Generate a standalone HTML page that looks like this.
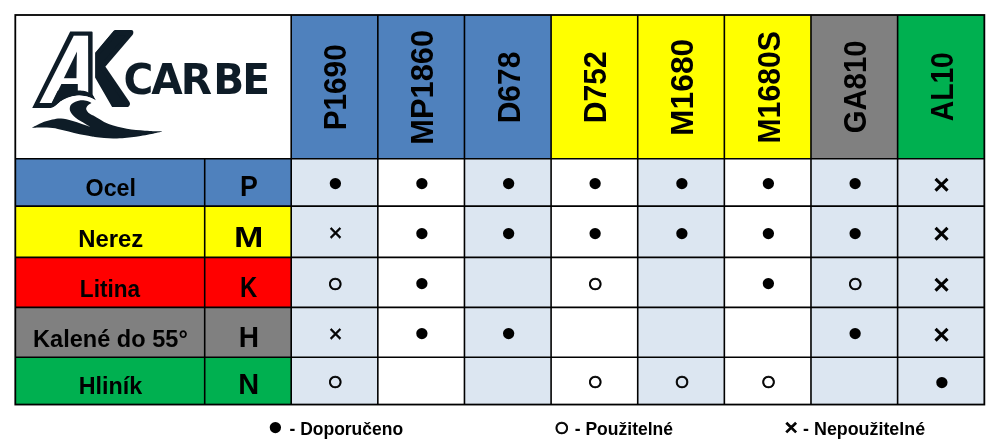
<!DOCTYPE html>
<html lang="cs"><head><meta charset="utf-8"><title>AK CARBE</title>
<style>html,body{margin:0;padding:0;background:#fff}body{width:1000px;height:439px;overflow:hidden}svg{display:block}text{font-family:"Liberation Sans",Arial,sans-serif;font-weight:bold;fill:#000}</style>
</head><body>
<svg width="1000" height="439" viewBox="0 0 1000 439">
<rect x="0" y="0" width="1000" height="439" fill="#fff"/>
<g id="cells">
<rect x="291.20" y="15.00" width="86.63" height="143.70" fill="#4F81BD"/>
<rect x="377.83" y="15.00" width="86.63" height="143.70" fill="#4F81BD"/>
<rect x="464.46" y="15.00" width="86.63" height="143.70" fill="#4F81BD"/>
<rect x="551.09" y="15.00" width="86.63" height="143.70" fill="#FFFF00"/>
<rect x="637.72" y="15.00" width="86.63" height="143.70" fill="#FFFF00"/>
<rect x="724.35" y="15.00" width="86.63" height="143.70" fill="#FFFF00"/>
<rect x="810.98" y="15.00" width="86.63" height="143.70" fill="#808080"/>
<rect x="897.61" y="15.00" width="86.64" height="143.70" fill="#00B050"/>
<rect x="15.25" y="158.70" width="275.95" height="47.40" fill="#4F81BD"/>
<rect x="15.25" y="206.10" width="275.95" height="51.30" fill="#FFFF00"/>
<rect x="15.25" y="257.40" width="275.95" height="50.00" fill="#FF0000"/>
<rect x="15.25" y="307.40" width="275.95" height="49.90" fill="#808080"/>
<rect x="15.25" y="357.30" width="275.95" height="47.20" fill="#00B050"/>
<rect x="291.20" y="158.70" width="86.63" height="245.80" fill="#DCE6F1"/>
<rect x="464.46" y="158.70" width="86.63" height="245.80" fill="#DCE6F1"/>
<rect x="637.72" y="158.70" width="86.63" height="245.80" fill="#DCE6F1"/>
<rect x="810.98" y="158.70" width="86.63" height="245.80" fill="#DCE6F1"/>
<rect x="897.61" y="158.70" width="86.64" height="245.80" fill="#DCE6F1"/>
</g>
<g id="grid" stroke="#000" stroke-width="1.6" fill="none">
<line x1="291.20" y1="15.0" x2="291.20" y2="404.5"/>
<line x1="377.83" y1="15.0" x2="377.83" y2="404.5"/>
<line x1="464.46" y1="15.0" x2="464.46" y2="404.5"/>
<line x1="551.09" y1="15.0" x2="551.09" y2="404.5"/>
<line x1="637.72" y1="15.0" x2="637.72" y2="404.5"/>
<line x1="724.35" y1="15.0" x2="724.35" y2="404.5"/>
<line x1="810.98" y1="15.0" x2="810.98" y2="404.5"/>
<line x1="897.61" y1="15.0" x2="897.61" y2="404.5"/>
<line x1="204.70" y1="158.7" x2="204.70" y2="404.5"/>
<line x1="15.25" y1="158.70" x2="984.25" y2="158.70"/>
<line x1="15.25" y1="206.10" x2="984.25" y2="206.10"/>
<line x1="15.25" y1="257.40" x2="984.25" y2="257.40"/>
<line x1="15.25" y1="307.40" x2="984.25" y2="307.40"/>
<line x1="15.25" y1="357.30" x2="984.25" y2="357.30"/>
</g>
<rect x="15.3" y="15" width="969.05" height="389.55" fill="none" stroke="#000" stroke-width="1.8"/>
<g id="heads">
<text transform="translate(346.40 130.28) rotate(-90) scale(0.9302 1)" font-size="31.97">P1690</text>
<text transform="translate(433.03 144.72) rotate(-90) scale(0.9645 1)" font-size="31.97">MP1860</text>
<text transform="translate(519.66 123.31) rotate(-90) scale(0.9382 1)" font-size="31.97">D678</text>
<text transform="translate(606.29 123.23) rotate(-90) scale(0.9400 1)" font-size="31.97">D752</text>
<text transform="translate(692.92 135.91) rotate(-90) scale(0.9939 1)" font-size="31.97">M1680</text>
<text transform="translate(779.55 143.51) rotate(-90) scale(0.9436 1)" font-size="31.97">M1680S</text>
<text transform="translate(866.18 133.32) rotate(-90) scale(0.9167 1)" font-size="31.97">GA810</text>
<text transform="translate(952.81 121.24) rotate(-90) scale(0.8840 1)" font-size="31.97">AL10</text>
</g>
<g id="labels">
<text transform="translate(85.57 195.80) scale(0.9949 1)" font-size="23.40">Ocel</text>
<text transform="translate(78.19 247.10) scale(1.0210 1)" font-size="23.40">Nerez</text>
<text transform="translate(79.87 296.60) scale(0.9662 1)" font-size="23.40">Litina</text>
<text transform="translate(33.11 346.50) scale(1.0068 1)" font-size="23.40">Kalené do 55°</text>
<text transform="translate(78.63 394.00) scale(0.9970 1)" font-size="23.40">Hliník</text>
<text transform="translate(240.10 196.00) scale(0.8969 1)" font-size="29.80">P</text>
<text transform="translate(233.92 247.00) scale(1.1837 1)" font-size="29.80">M</text>
<text transform="translate(240.09 296.60) scale(0.8013 1)" font-size="29.80">K</text>
<text transform="translate(238.70 346.80) scale(0.9426 1)" font-size="29.80">H</text>
<text transform="translate(238.25 394.00) scale(0.9711 1)" font-size="29.80">N</text>
</g>
<g id="data">
<text x="327.47" y="191.42" font-size="26.28">●</text>
<text x="414.10" y="191.42" font-size="26.28">●</text>
<text x="500.73" y="191.42" font-size="26.28">●</text>
<text x="587.36" y="191.42" font-size="26.28">●</text>
<text x="673.99" y="191.42" font-size="26.28">●</text>
<text x="760.62" y="191.42" font-size="26.28">●</text>
<text x="847.25" y="191.42" font-size="26.28">●</text>
<text x="933.25" y="194.01" font-size="28.31" font-weight="normal" style="font-weight:normal" stroke="#000" stroke-width="1.1">×</text>
<text x="328.38" y="241.34" font-size="24.04" font-weight="normal" style="font-weight:normal" stroke="#000" stroke-width="0.5">×</text>
<text x="414.10" y="240.77" font-size="26.28">●</text>
<text x="500.73" y="240.77" font-size="26.28">●</text>
<text x="587.36" y="240.77" font-size="26.28">●</text>
<text x="673.99" y="240.77" font-size="26.28">●</text>
<text x="760.62" y="240.77" font-size="26.28">●</text>
<text x="847.25" y="240.77" font-size="26.28">●</text>
<text x="933.25" y="243.36" font-size="28.31" font-weight="normal" style="font-weight:normal" stroke="#000" stroke-width="1.1">×</text>
<text x="327.37" y="291.98" font-size="26.59" stroke="#000" stroke-width="0.9">○</text>
<text x="414.10" y="291.42" font-size="26.28">●</text>
<text x="587.26" y="291.98" font-size="26.59" stroke="#000" stroke-width="0.9">○</text>
<text x="760.62" y="291.42" font-size="26.28">●</text>
<text x="847.15" y="291.98" font-size="26.59" stroke="#000" stroke-width="0.9">○</text>
<text x="933.25" y="294.01" font-size="28.31" font-weight="normal" style="font-weight:normal" stroke="#000" stroke-width="1.1">×</text>
<text x="328.38" y="341.94" font-size="24.04" font-weight="normal" style="font-weight:normal" stroke="#000" stroke-width="0.5">×</text>
<text x="414.10" y="341.37" font-size="26.28">●</text>
<text x="500.73" y="341.37" font-size="26.28">●</text>
<text x="847.25" y="341.37" font-size="26.28">●</text>
<text x="933.25" y="343.96" font-size="28.31" font-weight="normal" style="font-weight:normal" stroke="#000" stroke-width="1.1">×</text>
<text x="327.37" y="390.48" font-size="26.59" stroke="#000" stroke-width="0.9">○</text>
<text x="587.26" y="390.48" font-size="26.59" stroke="#000" stroke-width="0.9">○</text>
<text x="673.89" y="390.48" font-size="26.59" stroke="#000" stroke-width="0.9">○</text>
<text x="760.52" y="390.48" font-size="26.59" stroke="#000" stroke-width="0.9">○</text>
<text x="933.88" y="389.92" font-size="26.28">●</text>
</g>
<g id="legend">
<text x="267.55" y="434.82" font-size="26.28">●</text>
<text transform="translate(289.50 434.50) scale(0.9861 1)" font-size="17.73">- Doporučeno</text>
<text x="553.76" y="435.78" font-size="26.59" stroke="#000" stroke-width="0.9">○</text>
<text transform="translate(574.70 434.50) scale(0.9889 1)" font-size="17.73">- Použitelné</text>
<text x="784.50" y="435.02" font-size="22.92" font-weight="normal" style="font-weight:normal" stroke="#000" stroke-width="1.1">×</text>
<text transform="translate(803.09 434.50) scale(1.0077 1)" font-size="17.73">- Nepoužitelné</text>
</g>
<g id="logo" fill="#0E1C27" font-family="'DejaVu Sans', 'Liberation Sans', sans-serif" font-weight="bold">
<text transform="matrix(0.7424 0 -0.0824 0.9762 67.90 104.44)" font-size="100" style="font-family:'DejaVu Sans','Liberation Sans',sans-serif;fill:#0E1C27" stroke="#0E1C27" stroke-width="6" stroke-linejoin="round">K</text>
<polygon points="60,27 116.4,27 95.1,52.7 95.1,77.4 115.0,112 60,112" fill="#fff"/>
<path d="M70.2,31.4 L91.6,31.4 Q92.6,31.4 92.6,32.4 L92.6,94.7 L95.6,100.2 C93.5,98.8 91.5,98 89.4,97.3 C86,96.1 82.5,95.4 79.2,95.4 C76.8,95.4 74.5,95.7 72.3,96.3 C69,97.2 66,98.3 63.25,99.7 C61,100.8 59.5,102.2 57.8,103.8 C55.5,105.9 53.5,107.9 50.6,107.9 L32.2,107.9 Z"/>
<text transform="matrix(0.6365 0 -0.2335 0.9214 39.31 103.01)" font-size="100" style="font-family:'DejaVu Sans','Liberation Sans',sans-serif;fill:#fff">A</text>
<path d="M77.8,84 L77.8,90.5 C80,90.5 81.5,90.6 83,90.8 C85,91.1 86.5,91.6 88,92.2 L92.6,94.7 L95.6,100.2 C93.5,98.8 91.5,98 89.4,97.3 C86,96.1 82.5,95.4 79.2,95.4 C76.8,95.4 74.5,95.7 72.3,96.3 C69,97.2 66,98.3 63.25,99.7 C61,100.8 59.5,102.2 57.8,103.8 C55.5,105.9 53.5,107.9 50.6,107.9 L45,107.9 L52,102.9 L61.4,84 Z"/>
<path d="M95.6,100.2 C93.5,98.8 91.5,98 89.4,97.3 C86,96.1 82.5,95.4 79.2,95.4 C76.8,95.4 74.5,95.7 72.3,96.3 C69,97.2 66,98.3 63.25,99.7 C61,100.8 59.5,102.2 57.8,103.8 C55.5,105.9 53.5,107.9 50.6,107.9 L50.6,113 L95.6,113 Z" fill="#fff"/>
<path d="M31.60,127.80 C33.23,126.98 37.95,124.27 41.40,122.90 C44.85,121.53 49.02,120.33 52.30,119.60 C55.58,118.87 57.82,118.32 61.10,118.50 C64.38,118.68 68.55,119.78 72.00,120.70 C75.45,121.62 78.80,123.00 81.80,124.00 C84.80,125.00 88.63,126.25 90.00,126.70 C88.63,125.88 84.25,123.35 81.80,121.80 C79.35,120.25 77.12,118.95 75.30,117.40 C73.48,115.85 71.82,114.05 70.90,112.50 C69.98,110.95 69.62,109.57 69.80,108.10 C69.98,106.63 70.37,104.97 72.00,103.70 C73.63,102.43 77.05,100.95 79.60,100.50 C82.15,100.05 85.33,100.60 87.30,101.00 C89.27,101.40 90.72,102.58 91.40,102.90 C90.80,103.32 88.67,104.35 87.80,105.40 C86.93,106.45 85.92,107.83 86.20,109.20 C86.48,110.57 88.03,112.37 89.50,113.60 C90.97,114.83 92.57,115.22 95.00,116.60 C97.43,117.98 101.07,120.42 104.10,121.90 C107.13,123.38 110.17,124.52 113.20,125.50 C116.23,126.48 119.27,127.15 122.30,127.80 C125.33,128.45 128.35,128.98 131.40,129.40 C134.45,129.82 137.55,130.03 140.60,130.30 C143.65,130.57 146.07,130.82 149.70,131.00 C153.33,131.18 160.28,131.33 162.40,131.40 C161.33,131.65 158.12,132.43 156.00,132.90 C153.88,133.37 152.27,133.68 149.70,134.20 C147.13,134.72 143.65,135.48 140.60,136.00 C137.55,136.52 134.45,136.92 131.40,137.30 C128.35,137.68 125.33,138.12 122.30,138.30 C119.27,138.48 116.23,138.45 113.20,138.40 C110.17,138.35 107.13,138.22 104.10,138.00 C101.07,137.78 97.25,137.38 95.00,137.10 C92.75,136.82 93.17,136.77 90.60,136.30 C88.03,135.83 83.25,135.08 79.60,134.30 C75.95,133.52 72.33,132.50 68.70,131.60 C65.07,130.70 61.43,129.57 57.80,128.90 C54.17,128.23 51.27,127.78 46.90,127.60 C42.53,127.42 34.15,127.77 31.60,127.80 Z"/>
<text transform="scale(0.97 1)" x="127.38 155.87 186.31 219.94 249.81" y="94.1" font-size="41.92" style="font-family:'DejaVu Sans','Liberation Sans',sans-serif;fill:#0E1C27">CARBE</text>
</g>
</svg>
</body></html>
